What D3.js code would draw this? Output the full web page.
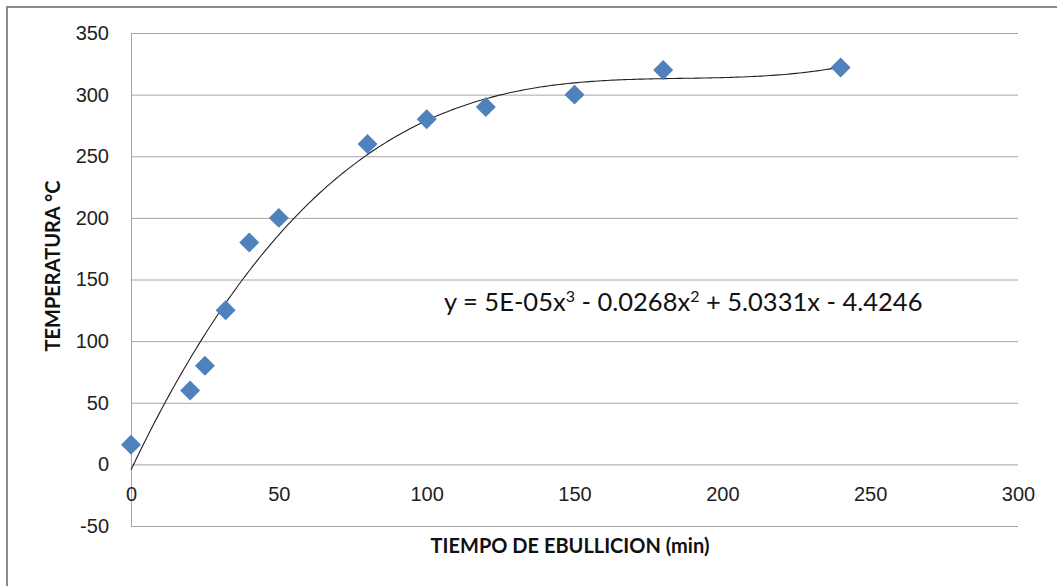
<!DOCTYPE html>
<html>
<head>
<meta charset="utf-8">
<script src="https://cdn.jsdelivr.net/npm/d3@7"></script>
<style>
  body { margin: 0; background: #fff; }
  svg { font-family: Lato, "Open Sans", sans-serif; }
  .tick text { font-size: 20px; fill: #222; }
  .grid line { stroke: #a6a6a6; }
  .label { font-size: 20px; font-weight: bold; fill: #111; }
</style>
</head>
<body>
<svg width="1057" height="586"></svg>
<script>
// tiempo de ebullicion (min) vs temperatura (°C)
const tiempo = [0, 20, 25, 32, 40, 50, 80, 100, 120, 150, 180, 240];
const temperatura = [16, 60, 80, 125, 180, 200, 260, 280, 290, 300, 320, 322];
const xTicks = [0, 50, 100, 150, 200, 250, 300];
const yTicks = [-50, 0, 50, 100, 150, 200, 250, 300, 350];

const svg = d3.select('svg');

// outer border of the chart
svg.append('rect')
  .attr('x', 7).attr('y', 7)
  .attr('width', 1100).attr('height', 700)
  .attr('fill', 'none')
  .attr('stroke', '#8c8c8c')
  .attr('stroke-width', 2);

const plotLeft = 131, plotRight = 1018, plotTop = 33, plotBottom = 526;

const xScale = d3.scaleLinear().domain([0, 300]).range([plotLeft, plotRight]);
const yScale = d3.scaleLinear().domain([-50, 350]).range([plotBottom, plotTop]);

// horizontal grid lines
svg.append('g')
  .attr('class', 'grid')
  .attr('transform', `translate(${plotLeft}, 0)`)
  .call(d3.axisLeft(yScale).tickValues(yTicks).tickSize(-(plotRight - plotLeft)).tickFormat(''))
  .call(g => g.select('.domain').remove());

// y axis
svg.append('g')
  .attr('transform', `translate(${plotLeft}, 0)`)
  .call(d3.axisLeft(yScale).tickValues(yTicks).tickSize(0).tickPadding(22).tickFormat(d => String(d)))
  .call(g => g.select('.domain').attr('stroke', '#a6a6a6'));

// x axis sits on y = 0
svg.append('g')
  .attr('transform', `translate(0, ${yScale(0)})`)
  .call(d3.axisBottom(xScale).tickValues(xTicks).tickSize(0).tickPadding(22).tickFormat(d => String(d)))
  .call(g => g.select('.domain').remove());

// cubic least squares trendline
function polyFit(xs, ys, deg) {
  const n = deg + 1;
  const A = [];
  for (let r = 0; r < n; r++) {
    A.push([]);
    for (let c = 0; c < n; c++) A[r].push(d3.sum(xs, x => Math.pow(x, r + c)));
    A[r].push(d3.sum(xs, (x, i) => Math.pow(x, r) * ys[i]));
  }
  for (let i = 0; i < n; i++) {
    let p = i;
    for (let k = i + 1; k < n; k++) if (Math.abs(A[k][i]) > Math.abs(A[p][i])) p = k;
    [A[i], A[p]] = [A[p], A[i]];
    for (let k = i + 1; k < n; k++) {
      const f = A[k][i] / A[i][i];
      for (let c = i; c <= n; c++) A[k][c] -= f * A[i][c];
    }
  }
  const coef = new Array(n).fill(0);
  for (let i = n - 1; i >= 0; i--) {
    let s = A[i][n];
    for (let c = i + 1; c < n; c++) s -= A[i][c] * coef[c];
    coef[i] = s / A[i][i];
  }
  return coef;
}
const coef = polyFit(tiempo, temperatura, 3);
const fx = x => coef[0] + coef[1] * x + coef[2] * x * x + coef[3] * x * x * x;
const curve = d3.range(0, 240.5, 1).map(x => [x, fx(x)]);

svg.append('path')
  .datum(curve)
  .attr('fill', 'none')
  .attr('stroke', '#222')
  .attr('stroke-width', 1.1)
  .attr('d', d3.line().x(d => xScale(d[0])).y(d => yScale(d[1])));

// diamond markers
svg.append('g')
  .selectAll('path')
  .data(tiempo)
  .enter()
  .append('path')
  .attr('transform', (d, i) => `translate(${xScale(d)}, ${yScale(temperatura[i])}) rotate(45)`)
  .attr('d', d3.symbol().type(d3.symbolSquare).size(200))
  .attr('fill', '#4f81bd');

// equation
const eq = svg.append('text')
  .attr('x', 444)
  .attr('y', 311)
  .attr('font-size', 25.5)
  .attr('fill', '#111');
eq.append('tspan').text('y = 5E-05x');
eq.append('tspan').attr('baseline-shift', 'super').attr('font-size', 16).text('3');
eq.append('tspan').text(' - 0.0268x');
eq.append('tspan').attr('baseline-shift', 'super').attr('font-size', 16).text('2');
eq.append('tspan').text(' + 5.0331x - 4.4246');

svg.append('text')
  .attr('class', 'label')
  .attr('x', 570)
  .attr('y', 553)
  .attr('text-anchor', 'middle')
  .text('TIEMPO DE EBULLICION (min)');

svg.append('text')
  .attr('class', 'label')
  .attr('transform', 'translate(60, 266) rotate(-90)')
  .attr('text-anchor', 'middle')
  .text('TEMPERATURA °C');
</script>
</body>
</html>
